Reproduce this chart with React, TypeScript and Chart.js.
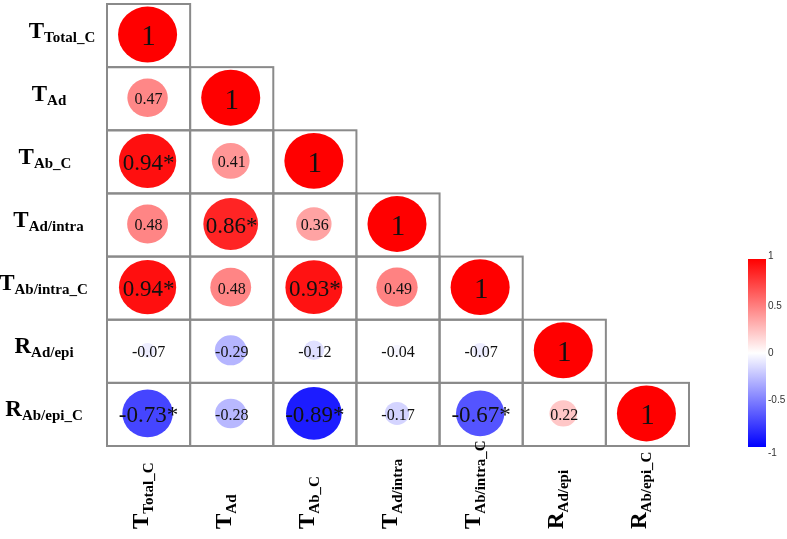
import React, { useEffect, useRef } from 'react';
import { Chart, registerables } from 'chart.js';

Chart.register(...registerables);

// ---- data ----
const varMain = ['T', 'T', 'T', 'T', 'T', 'R', 'R'];
const varSub = ['Total_C', 'Ad', 'Ab_C', 'Ad/intra', 'Ab/intra_C', 'Ad/epi', 'Ab/epi_C'];

// lower triangle (row i holds columns 1..i)
const corrRow1 = [1];
const corrRow2 = [0.47, 1];
const corrRow3 = [0.94, 0.41, 1];
const corrRow4 = [0.48, 0.86, 0.36, 1];
const corrRow5 = [0.94, 0.48, 0.93, 0.49, 1];
const corrRow6 = [-0.07, -0.29, -0.12, -0.04, -0.07, 1];
const corrRow7 = [-0.73, -0.28, -0.89, -0.17, -0.67, 0.22, 1];
const corrRows = [corrRow1, corrRow2, corrRow3, corrRow4, corrRow5, corrRow6, corrRow7];

// significant cells [row, col] (1-based)
const sigCells = [[3, 1], [4, 2], [5, 1], [5, 3], [7, 1], [7, 3], [7, 5]];

const colorbarTicks = [1, 0.5, 0, -0.5, -1];
const colorbarTickLabels = ['1', '0.5', '0', '-0.5', '-1'];

// ---- style / layout ----
const labelCenterX = [62, 49, 45, 48.5, 43.5, 44, 44];
const SERIF = '"Liberation Serif", "Times New Roman", serif';
const SANS = '"Liberation Sans", Arial, sans-serif';

type Pt = { x: number; y: number; v: number; sig: boolean };

const points: Pt[] = [];
corrRows.forEach((row, i) => {
  row.forEach((v, j) => {
    const sig = sigCells.some(([r, c]) => r === i + 1 && c === j + 1);
    points.push({ x: j + 1, y: i + 1, v, sig });
  });
});

function corrColor(v: number): string {
  if (v >= 0) {
    const c = Math.round(255 * (1 - v));
    return `rgb(255,${c},${c})`;
  }
  const c = Math.round(255 * (1 + v));
  return `rgb(${c},${c},255)`;
}

const corrPlugin = {
  id: 'corrPlugin',
  beforeDatasetsDraw(chart: any) {
    const { ctx } = chart;
    const xs = chart.scales.x;
    const ys = chart.scales.y;
    ctx.save();
    ctx.strokeStyle = '#8a8a8a';
    ctx.lineWidth = 2;
    points.forEach((p) => {
      const l = xs.getPixelForValue(p.x - 0.5);
      const r = xs.getPixelForValue(p.x + 0.5);
      const t = ys.getPixelForValue(p.y - 0.5);
      const b = ys.getPixelForValue(p.y + 0.5);
      ctx.strokeRect(l, t, r - l, b - t);
    });
    ctx.restore();
  },
  afterDatasetsDraw(chart: any) {
    const { ctx } = chart;
    const xs = chart.scales.x;
    const ys = chart.scales.y;
    const cw = Math.abs(xs.getPixelForValue(1) - xs.getPixelForValue(0));
    const ch = Math.abs(ys.getPixelForValue(1) - ys.getPixelForValue(0));
    const meta = chart.getDatasetMeta(0);
    ctx.save();
    meta.data.forEach((el: any, i: number) => {
      const p = points[i];
      const s = Math.sqrt(Math.abs(p.v));
      const rx = 0.355 * cw * s;
      const ry = 0.443 * ch * s;
      ctx.beginPath();
      ctx.ellipse(el.x - 1, el.y - 1, rx, ry, 0, 0, Math.PI * 2);
      ctx.fillStyle = corrColor(p.v);
      ctx.fill();
    });
    meta.data.forEach((el: any, i: number) => {
      const p = points[i];
      const size = p.v === 1 ? 29 : p.sig ? 23 : 16;
      const txt = (p.v === 1 ? '1' : p.v.toFixed(2)) + (p.sig ? '*' : '');
      ctx.font = `${size}px ${SERIF}`;
      ctx.fillStyle = '#111';
      ctx.textAlign = 'center';
      ctx.textBaseline = 'alphabetic';
      ctx.fillText(txt, el.x, el.y + size * 0.34);
    });

    // row labels (left)
    varMain.forEach((m, i) => {
      const cy = ys.getPixelForValue(i + 1);
      ctx.font = `bold 23px ${SERIF}`;
      const wm = ctx.measureText(m).width;
      ctx.font = `bold 15px ${SERIF}`;
      const wsb = ctx.measureText(varSub[i]).width;
      const start = labelCenterX[i] - (wm + wsb) / 2;
      ctx.textAlign = 'left';
      ctx.fillStyle = '#000';
      ctx.font = `bold 23px ${SERIF}`;
      ctx.fillText(m, start, cy + 2);
      ctx.font = `bold 15px ${SERIF}`;
      ctx.fillText(varSub[i], start + wm, cy + 6);
    });

    // column labels (bottom, rotated)
    varMain.forEach((m, i) => {
      const cx = xs.getPixelForValue(i + 1);
      ctx.save();
      ctx.translate(cx - 1, 529);
      ctx.rotate(-Math.PI / 2);
      ctx.textAlign = 'left';
      ctx.fillStyle = '#000';
      ctx.font = `bold 23px ${SERIF}`;
      const wm = ctx.measureText(m).width;
      ctx.fillText(m, 0, 0);
      ctx.font = `bold 15px ${SERIF}`;
      ctx.fillText(varSub[i], wm, 5);
      ctx.restore();
    });

    // colour bar
    const bx = 748, bw = 18, bt = 259, bb = 447;
    const g = ctx.createLinearGradient(0, bt, 0, bb);
    g.addColorStop(0, corrColor(1));
    g.addColorStop(0.5, corrColor(0));
    g.addColorStop(1, corrColor(-1));
    ctx.fillStyle = g;
    ctx.fillRect(bx, bt, bw, bb - bt);
    ctx.font = `10px ${SANS}`;
    ctx.fillStyle = '#333';
    ctx.textAlign = 'left';
    ctx.textBaseline = 'middle';
    colorbarTicks.forEach((t, k) => {
      let yy = (bt + bb) / 2 - t * (bb - bt) / 2;
      if (t === 1) yy -= 3;
      if (t === -1) yy += 6;
      ctx.fillText(colorbarTickLabels[k], bx + bw + 2, yy);
    });
    ctx.restore();
  },
};

export default function App() {
  const ref = useRef<HTMLCanvasElement | null>(null);
  useEffect(() => {
    if (!ref.current) return;
    const chart = new Chart(ref.current, {
      type: 'scatter',
      data: {
        datasets: [
          {
            data: points.map((p) => ({ x: p.x, y: p.y })),
            pointRadius: 0,
            pointHoverRadius: 0,
          },
        ],
      },
      options: {
        animation: false,
        responsive: false,
        events: [],
        layout: { padding: { left: 107, right: 98, top: 4, bottom: 93 } },
        plugins: { legend: { display: false }, tooltip: { enabled: false } },
        scales: {
          x: { type: 'linear', min: 0.5, max: 7.5, display: false },
          y: { type: 'linear', min: 0.5, max: 7.5, reverse: true, display: false },
        },
      },
      plugins: [corrPlugin],
    });
    return () => chart.destroy();
  }, []);
  return (
    <div style={{ position: 'absolute', left: 0, top: 0, width: 787, height: 539, background: '#fff' }}>
      <canvas ref={ref} width={787} height={539} style={{ display: 'block' }} />
    </div>
  );
}
